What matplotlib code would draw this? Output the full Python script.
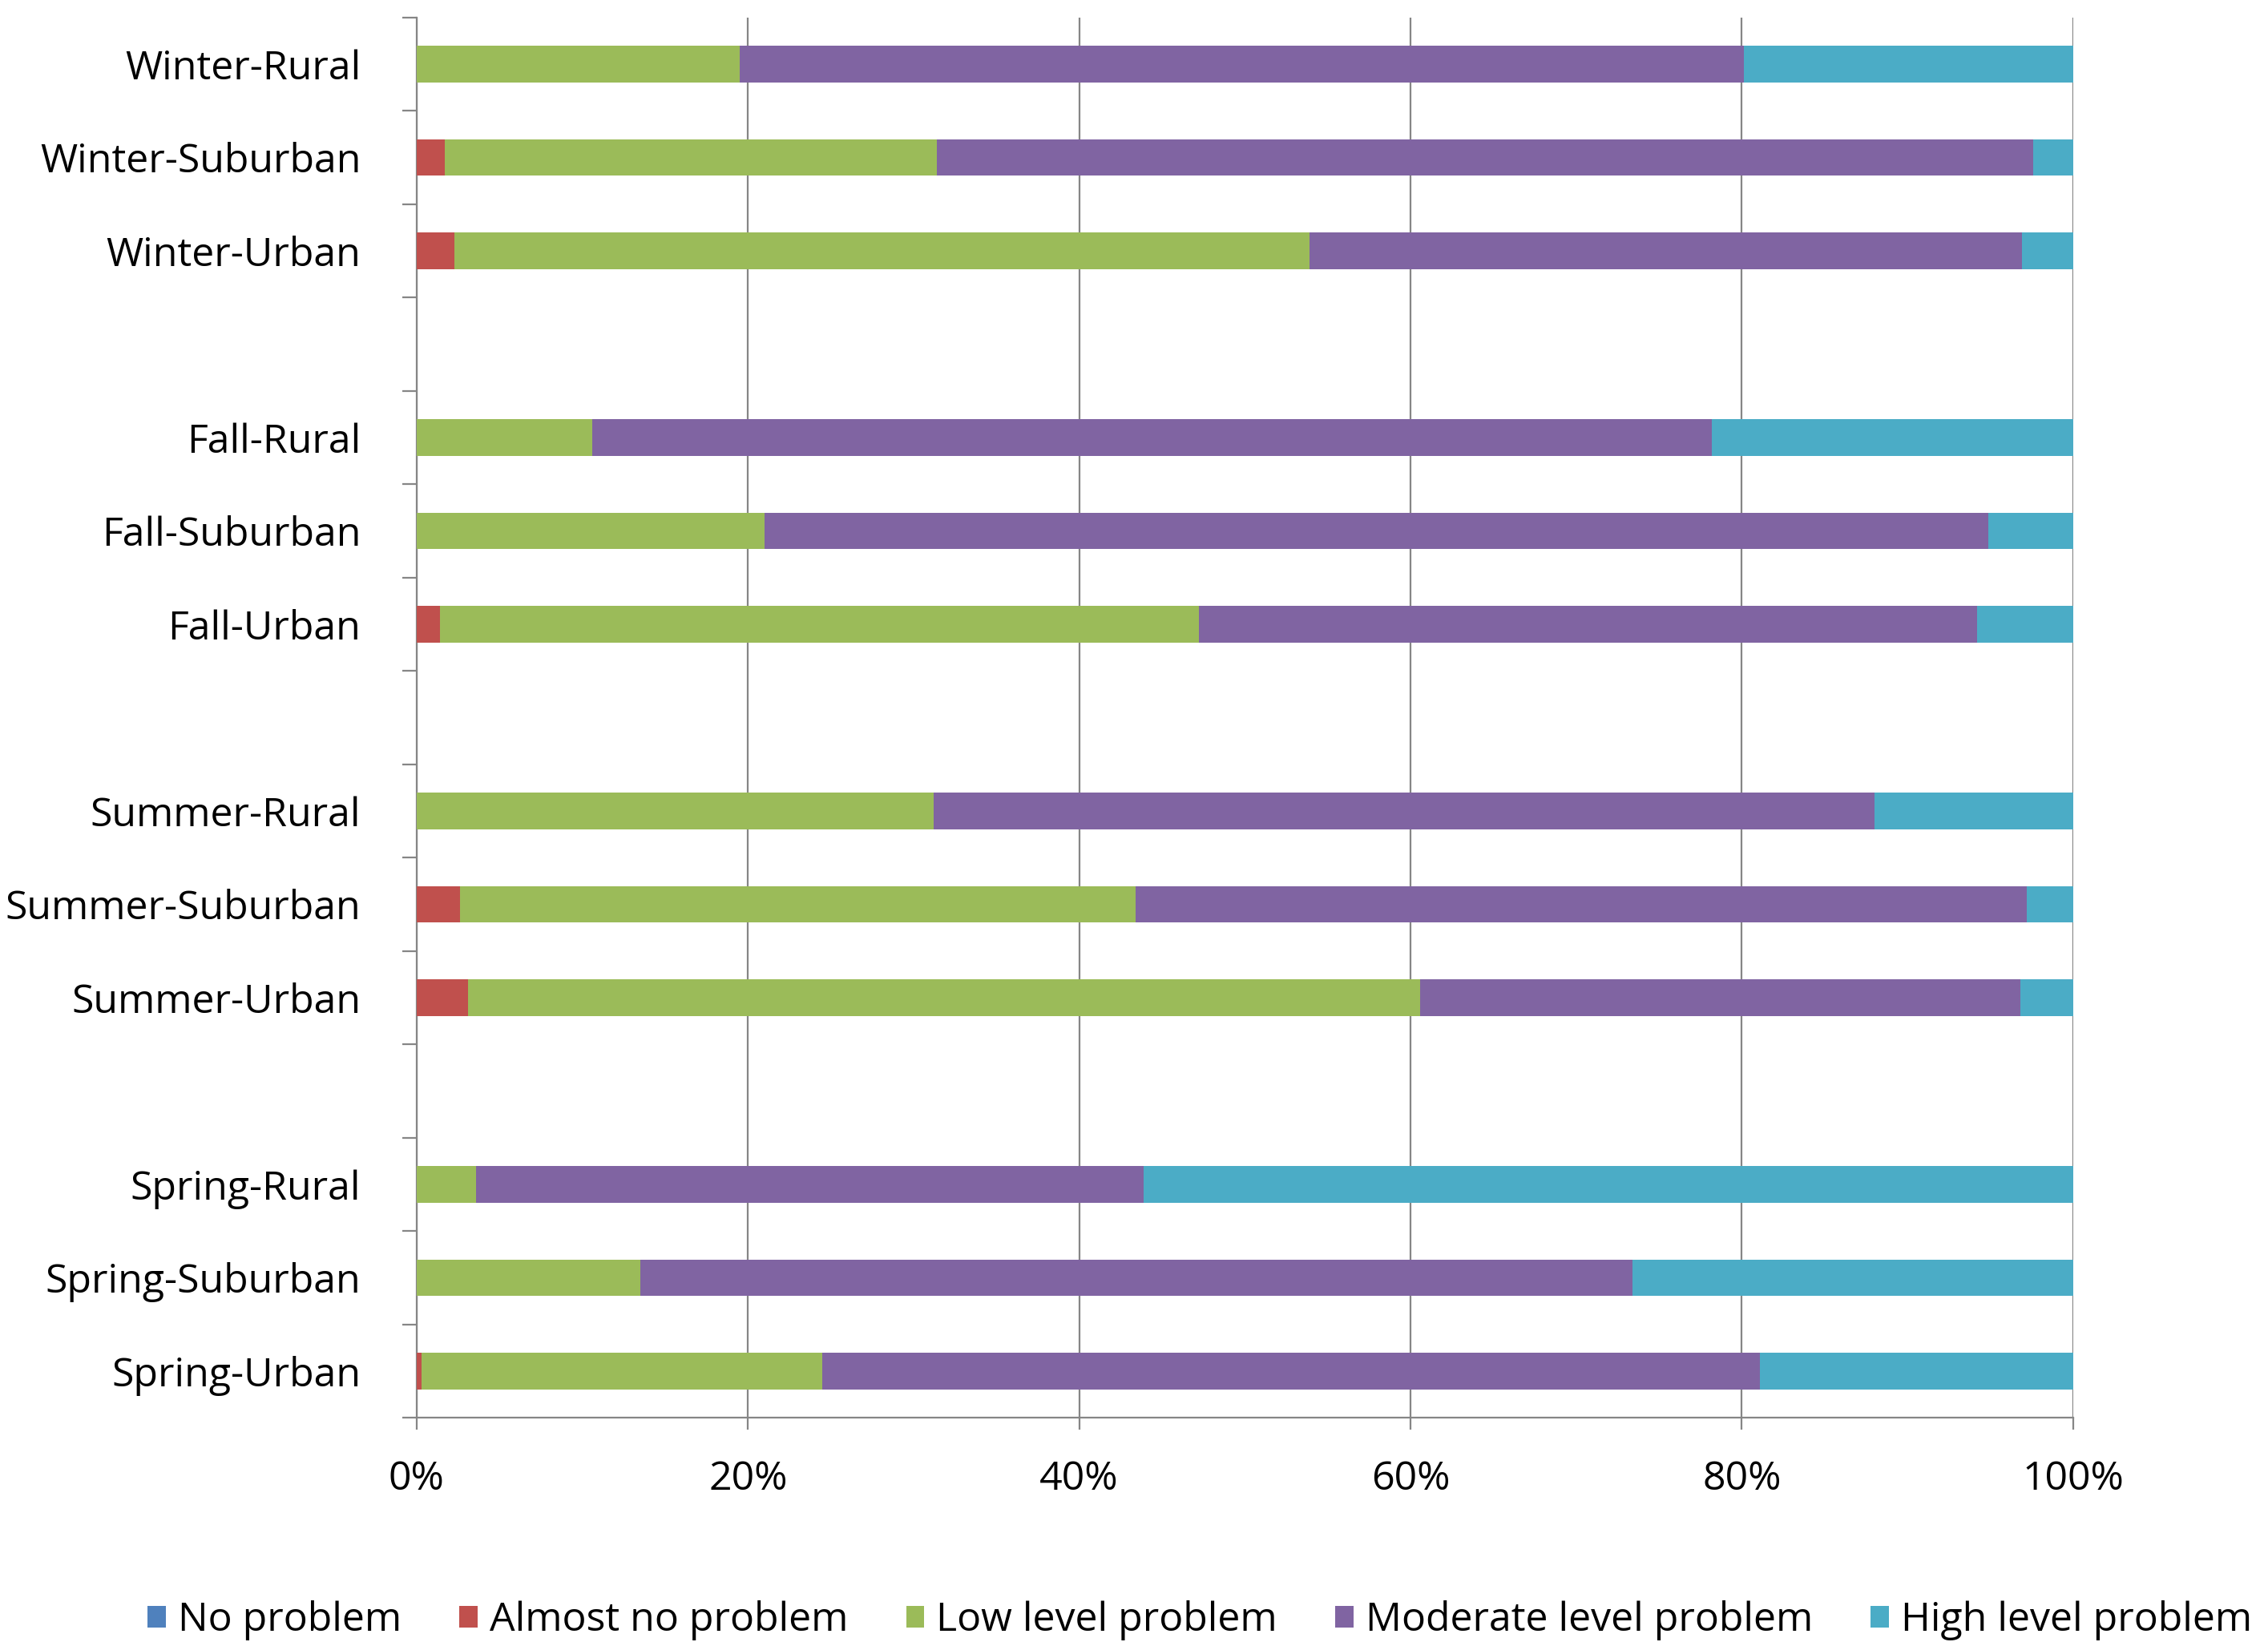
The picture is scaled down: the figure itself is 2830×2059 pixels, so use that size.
import matplotlib.pyplot as plt
import numpy as np
from matplotlib.patches import Patch
from matplotlib.ticker import FixedLocator, PercentFormatter

# -----------------------------
# DATA (shares, top row first; "" = empty spacer slot)
# -----------------------------
categories = ["Winter-Rural", "Winter-Suburban", "Winter-Urban", "",
              "Fall-Rural", "Fall-Suburban", "Fall-Urban", "",
              "Summer-Rural", "Summer-Suburban", "Summer-Urban", "",
              "Spring-Rural", "Spring-Suburban", "Spring-Urban"]

series_names = ["No problem", "Almost no problem", "Low level problem",
                "Moderate level problem", "High level problem"]

no_problem = [0.0, 0.0, 0.0, 0, 0.0, 0.0, 0.0, 0, 0.0, 0.0, 0.0, 0, 0.0, 0.0, 0.0]
almost_no  = [0.0, 1.7, 2.3, 0, 0.0, 0.0, 1.4, 0, 0.0, 2.6, 3.1, 0, 0.0, 0.0, 0.3]
low_level  = [19.5, 29.7, 51.6, 0, 10.6, 21.0, 45.8, 0, 31.2, 40.8, 57.5, 0, 3.6, 13.5, 24.2]
moderate   = [60.6, 66.2, 43.0, 0, 67.6, 73.9, 47.0, 0, 56.8, 53.8, 36.2, 0, 40.3, 59.9, 56.6]
high_level = [19.9, 2.4, 3.1, 0, 21.8, 5.1, 5.8, 0, 12.0, 2.8, 3.2, 0, 56.1, 26.6, 18.9]

colors = ["#4F81BD", "#C0504D", "#9BBB59", "#8064A2", "#4BACC6"]

# -----------------------------
# PLOT
# -----------------------------
plt.rcParams['font.family'] = ['Open Sans', 'DejaVu Sans']
fs = 36

fig = plt.figure(figsize=(28.3, 20.59), dpi=100)
ax = fig.add_axes([0.1837, 0.1408, 0.7304, 0.8487])

y = np.arange(len(categories))
left = np.zeros(len(categories))
for name, vals, col in zip(series_names,
                           [no_problem, almost_no, low_level, moderate, high_level],
                           colors):
    v = np.array(vals) / 100.0
    ax.barh(y, v, left=left, height=0.39, color=col, zorder=3)
    left += v

ax.set_xlim(0, 1)
ax.set_ylim(len(categories) - 0.5, -0.5)

grid_col = "#868686"
ax.set_xticks(np.linspace(0, 1, 6))
ax.xaxis.set_major_formatter(PercentFormatter(1.0, decimals=0))
ax.grid(axis="x", color=grid_col, linewidth=1.6, zorder=0)

ax.set_yticks(y)
ax.set_yticklabels(categories)
ax.yaxis.set_minor_locator(FixedLocator(np.arange(-0.5, len(categories), 1)))
ax.tick_params(axis="y", which="major", length=0, pad=50, labelsize=fs)
ax.tick_params(axis="y", which="minor", length=13, width=1.6, color=grid_col)
ax.tick_params(axis="x", which="major", length=11, width=1.6, color=grid_col,
               pad=27, labelsize=fs)

for side in ["top", "right"]:
    ax.spines[side].set_visible(False)
for side in ["left", "bottom"]:
    ax.spines[side].set_color(grid_col)
    ax.spines[side].set_linewidth(1.6)

handles = [Patch(facecolor=c, label=n) for n, c in zip(series_names, colors)]
fig.legend(handles=handles, loc="center", bbox_to_anchor=(0.529, 0.018),
           ncol=5, frameon=False, fontsize=fs, handlelength=0.45,
           handleheight=0.45, handletextpad=0.3, columnspacing=1.45)

fig.savefig("out.png", dpi=100, facecolor="white")
